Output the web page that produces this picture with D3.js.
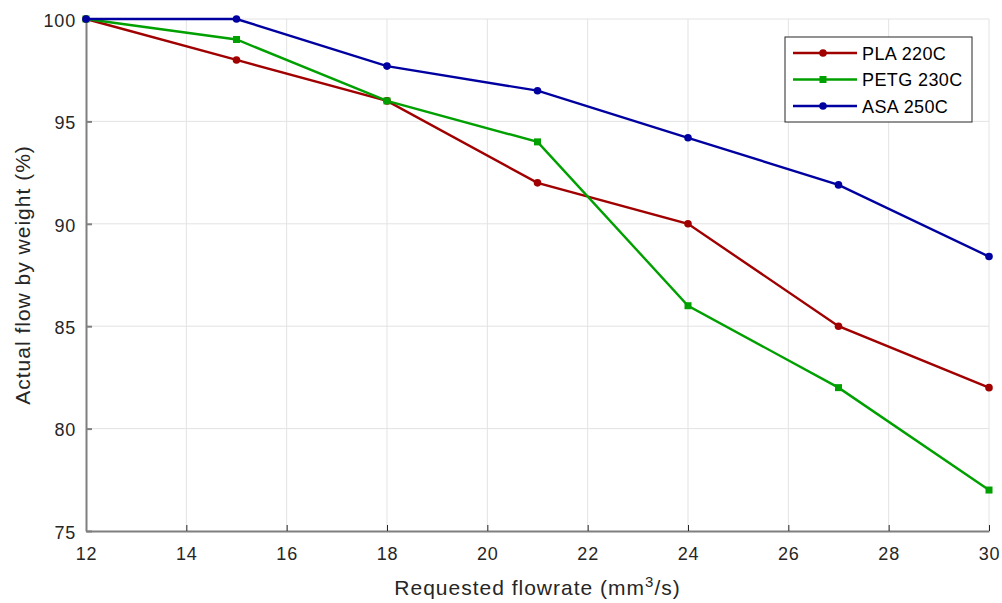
<!DOCTYPE html>
<html>
<head>
<meta charset="utf-8">
<script src="https://cdn.jsdelivr.net/npm/d3@7"></script>
<style>
  body { margin: 0; background: #fff; }
  svg { font-family: "Liberation Sans", Arial, sans-serif; }
</style>
</head>
<body>
<svg id="chart" width="1002" height="603"></svg>
<script>
var flowrates = [12, 15, 18, 21, 24, 27, 30];
var pla = [100, 98, 96, 92, 90, 85, 82];
var petg = [100, 99, 96, 94, 86, 82, 77];
var asa = [100, 100, 97.7, 96.5, 94.2, 91.9, 88.4];
var xTicks = [12, 14, 16, 18, 20, 22, 24, 26, 28, 30];
var yTicks = [75, 80, 85, 90, 95, 100];

var series = [
    {name: 'PLA 220C', values: pla, color: '#a00000', marker: 'circle'},
    {name: 'PETG 230C', values: petg, color: '#00a000', marker: 'square'},
    {name: 'ASA 250C', values: asa, color: '#0000a0', marker: 'circle'}
];

var svg = d3.select('#chart');
var m = {left: 86, right: 989, top: 19, bottom: 531};

var x = d3.scaleLinear().domain([12, 30]).range([m.left, m.right]);
var y = d3.scaleLinear().domain([75, 100]).range([m.bottom, m.top]);

// grid
svg.append('g').selectAll('line')
    .data(xTicks.slice(1))
    .join('line')
        .attr('x1', function(d) { return x(d); })
        .attr('x2', function(d) { return x(d); })
        .attr('y1', m.top)
        .attr('y2', m.bottom)
        .attr('stroke', '#e3e3e3')
        .attr('stroke-width', 1);

svg.append('g').selectAll('line')
    .data(yTicks.slice(1))
    .join('line')
        .attr('x1', m.left)
        .attr('x2', m.right)
        .attr('y1', function(d) { return y(d); })
        .attr('y2', function(d) { return y(d); })
        .attr('stroke', '#e3e3e3')
        .attr('stroke-width', 1);

// axes
var xAxis = svg.append('g')
    .attr('transform', 'translate(0,' + m.bottom + ')')
    .call(d3.axisBottom(x).tickValues(xTicks).tickSize(-6).tickSizeOuter(0).tickPadding(16));
var yAxis = svg.append('g')
    .attr('transform', 'translate(' + m.left + ',0)')
    .call(d3.axisLeft(y).tickValues(yTicks).tickSize(-6).tickSizeOuter(0).tickPadding(10));

[xAxis, yAxis].forEach(function(a) {
    a.select('.domain').attr('stroke', '#7f7f7f').attr('stroke-width', 2);
    a.selectAll('.tick line').attr('stroke', '#262626');
    a.selectAll('.tick text')
        .attr('fill', '#262626')
        .style('font-size', '18px')
        .style('letter-spacing', '0.8px');
});
yAxis.selectAll('.tick line').attr('stroke', '#808080').attr('stroke-width', 2);
yAxis.selectAll('.tick text').attr('dy', '0.4em');

// lines
var line = d3.line()
    .x(function(d, i) { return x(flowrates[i]); })
    .y(function(d) { return y(d); });

function drawMarker(g, s, cx, cy) {
    if (s.marker === 'square') {
        g.append('rect')
            .attr('x', cx - 3.5).attr('y', cy - 3.5)
            .attr('width', 7).attr('height', 7)
            .attr('fill', s.color);
    } else {
        g.append('circle')
            .attr('cx', cx).attr('cy', cy).attr('r', 3.8)
            .attr('fill', s.color);
    }
}

series.forEach(function(s) {
    var g = svg.append('g');
    g.append('path')
        .attr('d', line(s.values))
        .attr('fill', 'none')
        .attr('stroke', s.color)
        .attr('stroke-width', 2.4);
    s.values.forEach(function(v, i) {
        drawMarker(g, s, x(flowrates[i]), y(v));
    });
});

// legend
var lg = svg.append('g').attr('transform', 'translate(785,37)');
lg.append('rect')
    .attr('width', 187).attr('height', 85)
    .attr('fill', '#fff')
    .attr('stroke', '#262626')
    .attr('stroke-width', 1);
series.forEach(function(s, i) {
    var ly = 16 + i * 26.5;
    lg.append('line')
        .attr('x1', 8).attr('x2', 72)
        .attr('y1', ly).attr('y2', ly)
        .attr('stroke', s.color)
        .attr('stroke-width', 2.4);
    drawMarker(lg, s, 38, ly);
    lg.append('text')
        .attr('x', 77).attr('y', ly + 6.5)
        .attr('fill', '#000')
        .style('font-size', '18px')
        .style('letter-spacing', '0.4px')
        .text(s.name);
});

// titles
var xt = svg.append('text')
    .attr('x', (m.left + m.right) / 2)
    .attr('y', 595)
    .attr('text-anchor', 'middle')
    .attr('fill', '#262626')
    .style('font-size', '21px')
    .style('letter-spacing', '1px');
xt.append('tspan').text('Requested flowrate (mm');
xt.append('tspan').attr('dy', -8).style('font-size', '15px').text('3');
xt.append('tspan').attr('dy', 8).text('/s)');

svg.append('text')
    .attr('transform', 'translate(30,' + (m.top + m.bottom) / 2 + ') rotate(-90)')
    .attr('text-anchor', 'middle')
    .attr('fill', '#262626')
    .style('font-size', '21px')
    .style('letter-spacing', '1px')
    .text('Actual flow by weight (%)');
</script>
</body>
</html>
